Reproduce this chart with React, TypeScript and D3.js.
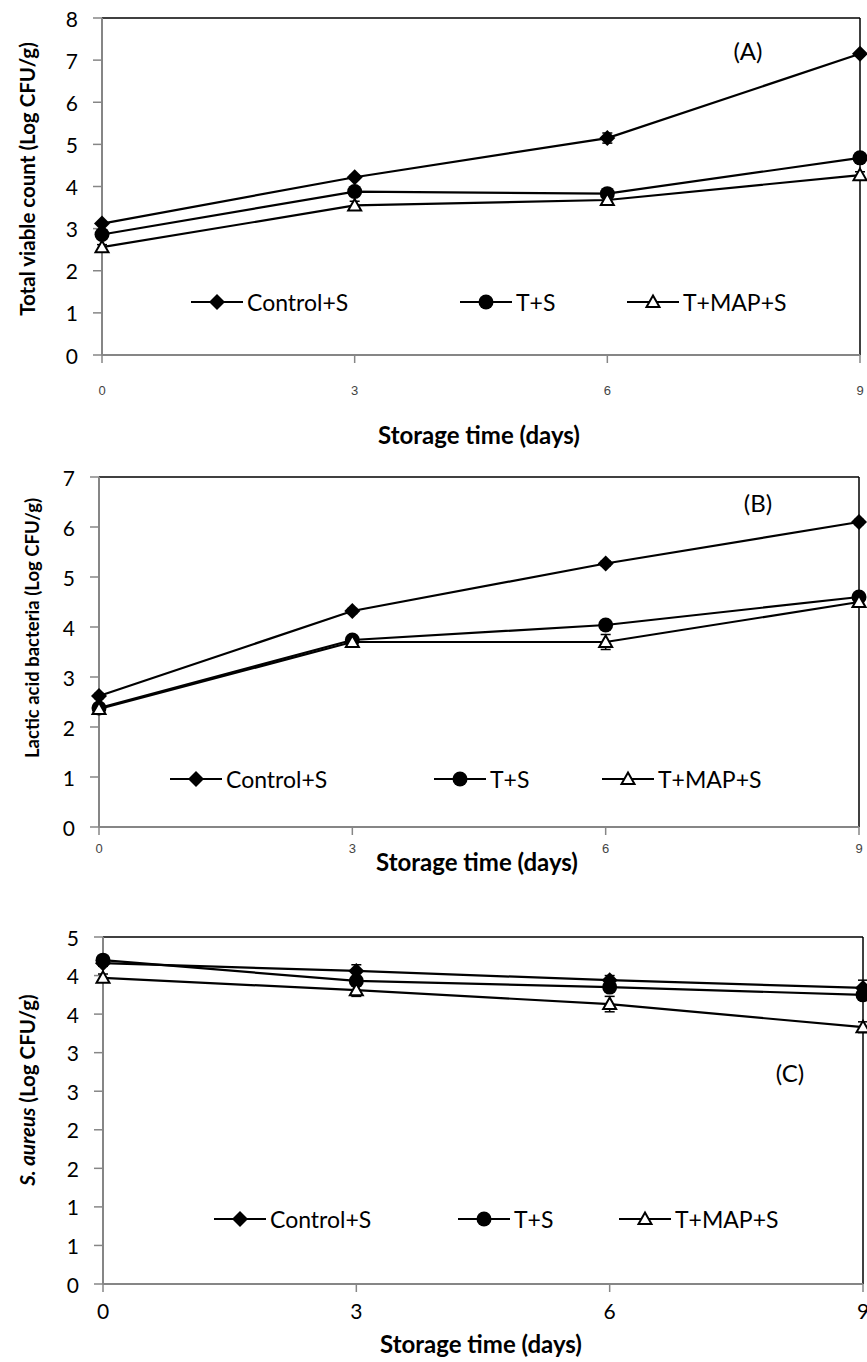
import React from 'react';
import * as d3 from 'd3';

// storage days
const days = [0, 3, 6, 9];
const seriesNames = ['Control+S', 'T+S', 'T+MAP+S'];

// (A) total viable count
const tvcControl = [3.12, 4.22, 5.15, 7.15];
const tvcTS = [2.86, 3.88, 3.83, 4.68];
const tvcTMAP = [2.56, 3.55, 3.68, 4.27];
const tvcErr = [[0.04, 0.05, 0.12, 0.05], [0.05, 0.06, 0.05, 0.08], [0.06, 0.1, 0.1, 0.08]];

// (B) lactic acid bacteria
const labControl = [2.62, 4.32, 5.27, 6.1];
const labTS = [2.38, 3.74, 4.04, 4.6];
const labTMAP = [2.36, 3.7, 3.7, 4.5];
const labErr = [[0.05, 0.05, 0.05, 0.05], [0.05, 0.05, 0.06, 0.06], [0.05, 0.06, 0.15, 0.08]];

// (C) S. aureus
const saControl = [4.16, 4.06, 3.94, 3.84];
const saTS = [4.2, 3.93, 3.85, 3.75];
const saTMAP = [3.97, 3.81, 3.63, 3.33];
const saErr = [[0.04, 0.08, 0.06, 0.1], [0.04, 0.05, 0.05, 0.05], [0.05, 0.08, 0.1, 0.07]];

const tvcTicks = [0, 1, 2, 3, 4, 5, 6, 7, 8];
const labTicks = [0, 1, 2, 3, 4, 5, 6, 7];
const saTicks = [0, 0.5, 1, 1.5, 2, 2.5, 3, 3.5, 4, 4.5];
const saTickLabels = ['0', '1', '1', '2', '2', '3', '3', '4', '4', '5'];
const dayLabels = ['0', '3', '6', '9'];

const FONT = 'Lato, "Open Sans", sans-serif';
const GREY = '#868686';

type PanelProps = {
  left: number; right: number; top: number; bottom: number;
  yMax: number; yTicks: number[]; yTickLabels: string[];
  series: number[][]; errs: number[][];
  yTitle: React.ReactNode; yTitleX: number; yTitleY: number; yTitleSize: number;
  xLabelY: number; xLabelBig: boolean; xTitleY: number;
  legendY: number; legendX: number[];
  tag: string; tagX: number; tagY: number;
};

const Marker = ({ kind, x, y }: { kind: number; x: number; y: number }) => {
  if (kind === 0) {
    return <path d={`M${x},${y - 8}L${x + 8},${y}L${x},${y + 8}L${x - 8},${y}Z`} fill="#000" />;
  }
  if (kind === 1) return <circle cx={x} cy={y} r={7.5} fill="#000" />;
  return <path d={`M${x},${y - 6.5}L${x + 6.5},${y + 5}L${x - 6.5},${y + 5}Z`} fill="#fff" stroke="#000" strokeWidth={2} />;
};

const Panel = (p: PanelProps) => {
  const x = d3.scaleLinear().domain([0, 9]).range([p.left, p.right]);
  const y = d3.scaleLinear().domain([0, p.yMax]).range([p.bottom, p.top]);
  const line = d3.line<number>().x((_, i) => x(days[i])).y(d => y(d));
  return (
    <g>
      {/* frame: grey axes, black top/right */}
      <line x1={p.left} x2={p.right} y1={p.top} y2={p.top} stroke="#000" strokeWidth={1.5} />
      <line x1={p.right} x2={p.right} y1={p.top} y2={p.bottom} stroke="#000" strokeWidth={1.5} />
      <line x1={p.left} x2={p.left} y1={p.top} y2={p.bottom} stroke={GREY} strokeWidth={2} />
      <line x1={p.left} x2={p.right} y1={p.bottom} y2={p.bottom} stroke={GREY} strokeWidth={2} />
      {p.yTicks.map((t, i) => (
        <g key={'y' + i}>
          <line x1={p.left - 9} x2={p.left} y1={y(t)} y2={y(t)} stroke={GREY} strokeWidth={1.5} />
          <text x={p.left - 24} y={y(t)} textAnchor="end" dominantBaseline="central" fontFamily={FONT} fontSize={21} fill="#000">{p.yTickLabels[i]}</text>
        </g>
      ))}
      {days.map((d, i) => (
        <g key={'x' + i}>
          <line x1={x(d)} x2={x(d)} y1={p.bottom} y2={p.bottom + 8} stroke={GREY} strokeWidth={1.5} />
          <text x={x(d)} y={p.xLabelY} textAnchor="middle" dominantBaseline="central"
            fontFamily={p.xLabelBig ? FONT : '"Liberation Sans Narrow", "Liberation Sans", sans-serif'}
            fontSize={p.xLabelBig ? 21 : 13} fill={p.xLabelBig ? '#000' : '#444'}>{dayLabels[i]}</text>
        </g>
      ))}
      <text x={(p.left + p.right) / 2 - 2} y={p.xTitleY} textAnchor="middle" dominantBaseline="central" fontFamily={FONT} fontWeight="bold" fontSize={24}>Storage time (days)</text>
      <text transform={`translate(${p.yTitleX},${p.yTitleY}) rotate(-90)`} textAnchor="middle" dominantBaseline="central" fontFamily={FONT} fontWeight="bold" fontSize={p.yTitleSize}>{p.yTitle}</text>
      <text x={p.tagX} y={p.tagY} textAnchor="middle" dominantBaseline="central" fontFamily={FONT} fontSize={24}>{p.tag}</text>
      {p.series.map((s, k) => (
        <g key={'s' + k}>
          <path d={line(s)!} fill="none" stroke="#000" strokeWidth={2.2} />
          {s.map((v, i) => {
            const e = p.errs[k][i];
            const cx = x(days[i]);
            return (
              <g key={i}>
                <line x1={cx} x2={cx} y1={y(v - e)} y2={y(v + e)} stroke="#000" strokeWidth={1.5} />
                <line x1={cx - 5} x2={cx + 5} y1={y(v - e)} y2={y(v - e)} stroke="#000" strokeWidth={1.5} />
                <line x1={cx - 5} x2={cx + 5} y1={y(v + e)} y2={y(v + e)} stroke="#000" strokeWidth={1.5} />
                <Marker kind={k} x={cx} y={y(v)} />
              </g>
            );
          })}
        </g>
      ))}
      {seriesNames.map((n, k) => (
        <g key={'l' + k}>
          <line x1={p.legendX[k] - 26} x2={p.legendX[k] + 26} y1={p.legendY} y2={p.legendY} stroke="#000" strokeWidth={2.2} />
          <Marker kind={k} x={p.legendX[k]} y={p.legendY} />
          <text x={p.legendX[k] + 30} y={p.legendY} dominantBaseline="central" fontFamily={FONT} fontSize={23}>{n}</text>
        </g>
      ))}
    </g>
  );
};

export default function App() {
  return (
    <svg width={867} height={1362} style={{ position: 'absolute', left: 0, top: 0, background: '#fff' }}>
      <Panel left={102} right={860} top={18} bottom={355} yMax={8} yTicks={tvcTicks} yTickLabels={tvcTicks.map(String)}
        series={[tvcControl, tvcTS, tvcTMAP]} errs={tvcErr}
        yTitle="Total viable count (Log CFU/g)" yTitleX={27} yTitleY={179} yTitleSize={20.5}
        xLabelY={390} xLabelBig={false} xTitleY={434}
        legendY={302} legendX={[217, 486, 653]} tag="(A)" tagX={748} tagY={50} />
      <Panel left={99} right={859} top={477} bottom={827} yMax={7} yTicks={labTicks} yTickLabels={labTicks.map(String)}
        series={[labControl, labTS, labTMAP]} errs={labErr}
        yTitle="Lactic acid bacteria (Log CFU/g)" yTitleX={32} yTitleY={628} yTitleSize={18.5}
        xLabelY={848} xLabelBig={false} xTitleY={861}
        legendY={779} legendX={[196, 460, 628]} tag="(B)" tagX={758} tagY={502} />
      <Panel left={103} right={863} top={937} bottom={1284} yMax={4.5} yTicks={saTicks} yTickLabels={saTickLabels}
        series={[saControl, saTS, saTMAP]} errs={saErr}
        yTitle={<><tspan fontStyle="italic">S. aureus</tspan> (Log CFU/g)</>} yTitleX={27} yTitleY={1090} yTitleSize={20.5}
        xLabelY={1310} xLabelBig={true} xTitleY={1343}
        legendY={1219} legendX={[240, 484, 645]} tag="(C)" tagX={790} tagY={1072} />
    </svg>
  );
}
